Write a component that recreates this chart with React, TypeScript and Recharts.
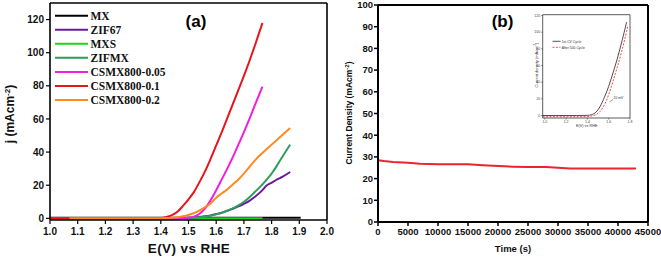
import React from "react";
import { LineChart, Line, XAxis, YAxis, ReferenceLine } from "recharts";

// ---------- Panel (a): LSV curves ----------
const potential = [1.0, 1.07, 1.1, 1.2, 1.3, 1.4, 1.42, 1.44, 1.46, 1.48, 1.5, 1.52, 1.54, 1.56, 1.58, 1.6, 1.62, 1.64, 1.66, 1.68, 1.7, 1.72, 1.74, 1.767, 1.78, 1.8, 1.82, 1.84, 1.867, 1.905];
const mx = [0.3, 0.3, 0.3, 0.3, 0.3, 0.3, 0.3, 0.3, 0.3, 0.3, 0.3, 0.3, 0.3, 0.3, 0.3, 0.3, 0.3, 0.3, 0.3, 0.3, 0.3, 0.3, 0.3, 0.3, 0.3, 0.3, 0.3, 0.3, 0.3, 0.3];
const zif67 = [0, 0, 0, 0, 0, 0, 0, 0, 0, 0.1, 0.3, 0.5, 0.8, 1.2, 1.8, 2.6, 3.4, 4.6, 5.8, 7.2, 8.8, 10.6, 13, 17, 19.5, 21.5, 23.5, 25.2, 28, null];
const mxs = [0, 0, 0, 0, 0, 0, 0, 0, 0, 0, 0, 0, 0, 0, 0, 0, 0, 0, 0, 0, 0, 0, 0, 0, null, null, null, null, null, null];
const zifmx = [0, 0, 0, 0, 0, 0, 0, 0, 0, 0, 0.1, 0.3, 0.6, 1.0, 1.6, 2.4, 3.3, 4.6, 6.0, 7.8, 10, 12.8, 16, 20.5, 23, 27, 32, 37.5, 44.5, null];
const csmx005 = [0, 0, 0, 0, 0, 0, 0, 0, 0, 0, 0.3, 1, 2.8, 6, 11, 17, 23.5, 30, 37, 44.5, 52, 60, 68.5, 79.5, null, null, null, null, null, null];
const csmx01 = [0, 0, 0, 0, 0, 0.2, 0.8, 2, 4, 7.5, 11.5, 16, 22, 28.5, 36, 44, 52, 60.5, 69, 77.5, 86, 95, 104.5, 118, null, null, null, null, null, null];
const csmx02 = [null, 0, 0, 0, 0, 0.1, 0.2, 0.4, 0.7, 1.2, 2, 3.2, 4.8, 6.8, 9, 12.5, 15, 17.5, 20.5, 23.5, 27, 31, 35, 39.5, 41.5, 44.5, 47.5, 50.5, 54.5, null];

const seriesA = [
  { key: "mx", name: "MX", values: mx, color: "#000000" },
  { key: "zif67", name: "ZIF67", values: zif67, color: "#6a1b9a" },
  { key: "mxs", name: "MXS", values: mxs, color: "#1ed21e" },
  { key: "zifmx", name: "ZIFMX", values: zifmx, color: "#2e9e5e" },
  { key: "csmx005", name: "CSMX800-0.05", values: csmx005, color: "#f21ee0" },
  { key: "csmx01", name: "CSMX800-0.1", values: csmx01, color: "#e8141c" },
  { key: "csmx02", name: "CSMX800-0.2", values: csmx02, color: "#ff8a1e" },
];
const xTicksA = [1.0, 1.1, 1.2, 1.3, 1.4, 1.5, 1.6, 1.7, 1.8, 1.9, 2.0];
const yTicksA = [0, 20, 40, 60, 80, 100, 120];

// ---------- Panel (b): chronoamperometry ----------
const time = [0, 1000, 2500, 5000, 7000, 10000, 15000, 17500, 20000, 22500, 25000, 28000, 30000, 32000, 35000, 40000, 43000];
const currentDensity = [28.5, 28.1, 27.7, 27.3, 26.8, 26.6, 26.6, 26.2, 25.8, 25.5, 25.3, 25.3, 25.0, 24.7, 24.6, 24.6, 24.6];
const xTicksB = [0, 5000, 10000, 15000, 20000, 25000, 30000, 35000, 40000, 45000];
const yTicksB = [0, 10, 20, 30, 40, 50, 60, 70, 80, 90, 100];

// ---------- Inset ----------
const insetPotential = [0.98, 1.1, 1.2, 1.3, 1.4, 1.44, 1.48, 1.52, 1.56, 1.6, 1.64, 1.68, 1.72, 1.768, 1.778];
const firstCycle = [0, 0, 0, 0, 0.2, 1, 4, 11, 22, 35, 51, 68, 87, 112, null];
const after500 = [-1.5, -1.5, -1.5, -1.5, -1.2, -0.5, 1, 5, 13, 25, 41, 58, 76, 101, 107];
const xTicksInset = [1.0, 1.2, 1.4, 1.6, 1.8];
const yTicksInset = [0, 20, 40, 60, 80, 100, 120];

const dataA = potential.map((e, i) => {
  const row: any = { e };
  seriesA.forEach((s) => (row[s.key] = s.values[i]));
  return row;
});
const dataB = time.map((t, i) => ({ t, j: currentDensity[i] }));
const dataInset = insetPotential.map((e, i) => ({ e, first: firstCycle[i], after: after500[i] }));

const SANS = "'Liberation Sans', Arial, sans-serif";
const SERIF = "'Liberation Serif', 'Times New Roman', serif";

export default function App() {
  return (
    <div style={{ position: "absolute", left: 0, top: 0, width: 661, height: 259, background: "#fff", overflow: "hidden" }}>
      {/* Panel (a) */}
      <div style={{ position: "absolute", left: 0, top: 0 }}>
        <LineChart width={342} height={259} data={dataA} margin={{ top: 3, right: 15, bottom: 9, left: 0 }}>
          <XAxis
            dataKey="e"
            type="number"
            domain={[1.0, 2.0]}
            ticks={xTicksA}
            tickFormatter={(v: number) => v.toFixed(1)}
            interval={0}
            height={30}
            tickSize={4}
            tickMargin={4}
            axisLine={{ stroke: "#000", strokeWidth: 1.6 }}
            tickLine={{ stroke: "#000", strokeWidth: 1.2 }}
            tick={{ fill: "#111", fontSize: 10, fontWeight: 700, fontFamily: SANS }}
          />
          <YAxis
            type="number"
            domain={[-1, 130]}
            ticks={yTicksA}
            interval={0}
            width={50}
            tickSize={4}
            tickMargin={2}
            axisLine={{ stroke: "#000", strokeWidth: 1.6 }}
            tickLine={{ stroke: "#000", strokeWidth: 1.2 }}
            tick={{ fill: "#111", fontSize: 10, fontWeight: 700, fontFamily: SANS }}
          />
          <ReferenceLine y={130} stroke="#000" strokeWidth={1.6} ifOverflow="visible" />
          <ReferenceLine x={2.0} stroke="#000" strokeWidth={1.6} ifOverflow="visible" />
          {seriesA.map((s) => (
            <Line
              key={s.key}
              dataKey={s.key}
              name={s.name}
              type="monotone"
              stroke={s.color}
              strokeWidth={2}
              dot={false}
              activeDot={false}
              connectNulls={false}
              isAnimationActive={false}
            />
          ))}
        </LineChart>
      </div>

      {/* Panel (b) */}
      <div style={{ position: "absolute", left: 330, top: 0 }}>
        <LineChart width={331} height={259} data={dataB} margin={{ top: 5, right: 13, bottom: 7, left: 0 }}>
          <XAxis
            dataKey="t"
            type="number"
            domain={[0, 45000]}
            ticks={xTicksB}
            interval={0}
            height={30}
            tickSize={4}
            tickMargin={2}
            axisLine={{ stroke: "#000", strokeWidth: 2 }}
            tickLine={{ stroke: "#000", strokeWidth: 1.5 }}
            tick={{ fill: "#111", fontSize: 9.5, fontWeight: 700, fontFamily: SANS }}
          />
          <YAxis
            type="number"
            domain={[0, 100]}
            ticks={yTicksB}
            interval={0}
            width={48}
            tickSize={4}
            tickMargin={1}
            axisLine={{ stroke: "#000", strokeWidth: 2 }}
            tickLine={{ stroke: "#000", strokeWidth: 1.5 }}
            tick={{ fill: "#111", fontSize: 9.5, fontWeight: 700, fontFamily: SANS }}
          />
          <ReferenceLine y={100} stroke="#000" strokeWidth={2} ifOverflow="visible" />
          <ReferenceLine x={45000} stroke="#000" strokeWidth={2} ifOverflow="visible" />
          <Line
            dataKey="j"
            type="linear"
            stroke="#e8262e"
            strokeWidth={2}
            dot={false}
            activeDot={false}
            isAnimationActive={false}
          />
        </LineChart>
      </div>

      {/* Inset */}
      <div style={{ position: "absolute", left: 530, top: 8 }}>
        <LineChart width={105} height={125} data={dataInset} margin={{ top: 6.7, right: 5, bottom: 7, left: 0 }}>
          <XAxis
            dataKey="e"
            type="number"
            domain={[0.98, 1.8]}
            ticks={xTicksInset}
            tickFormatter={(v: number) => v.toFixed(1)}
            interval={0}
            height={8}
            tickSize={1.5}
            tickMargin={1}
            axisLine={{ stroke: "#333", strokeWidth: 0.8 }}
            tickLine={{ stroke: "#333", strokeWidth: 0.6 }}
            tick={{ fill: "#444", fontSize: 3.5, fontFamily: SANS }}
          />
          <YAxis
            type="number"
            domain={[-3, 121]}
            ticks={yTicksInset}
            interval={0}
            width={12.7}
            tickSize={1.5}
            tickMargin={1}
            axisLine={{ stroke: "#333", strokeWidth: 0.8 }}
            tickLine={{ stroke: "#333", strokeWidth: 0.6 }}
            tick={{ fill: "#444", fontSize: 3.5, fontFamily: SANS }}
          />
          <ReferenceLine y={121} stroke="#333" strokeWidth={0.8} ifOverflow="visible" />
          <ReferenceLine x={1.8} stroke="#333" strokeWidth={0.8} ifOverflow="visible" />
          <Line dataKey="first" type="monotone" stroke="#222" strokeWidth={0.8} dot={false} activeDot={false} isAnimationActive={false} />
          <Line dataKey="after" type="monotone" stroke="#f04848" strokeWidth={1} strokeDasharray="2 1.4" dot={false} activeDot={false} isAnimationActive={false} />
        </LineChart>
      </div>

      {/* Text overlay */}
      <svg width={661} height={259} style={{ position: "absolute", left: 0, top: 0, pointerEvents: "none" }}>
        {/* panel labels */}
        <text x={196} y={27} textAnchor="middle" fontSize={17} fontWeight={700} fontFamily={SANS} fill="#000">(a)</text>
        <text x={502.5} y={27} textAnchor="middle" fontSize={17} fontWeight={700} fontFamily={SANS} fill="#000">(b)</text>

        {/* axis titles (a) */}
        <text x={189} y={252.5} textAnchor="middle" fontSize={13.5} fontWeight={700} fontFamily={SANS} fill="#111" letterSpacing={0.4}>E(V) vs RHE</text>
        <text transform="translate(14,114) rotate(-90)" textAnchor="middle" fontSize={12} fontWeight={700} fontFamily={SANS} fill="#111">
          j (mAcm<tspan dy={-4} fontSize={8}>-2</tspan><tspan dy={4}>)</tspan>
        </text>

        {/* axis titles (b) */}
        <text x={513} y={251.5} textAnchor="middle" fontSize={9.5} fontWeight={700} fontFamily={SANS} fill="#111">Time (s)</text>
        <text transform="translate(351.5,113) rotate(-90)" textAnchor="middle" fontSize={8.5} fontWeight={700} fontFamily={SANS} fill="#111">
          Current Density (mAcm<tspan dy={-3} fontSize={6}>-2</tspan><tspan dy={3}>)</tspan>
        </text>

        {/* legend (a) */}
        {seriesA.map((s, i) => (
          <g key={s.key}>
            <line x1={55} x2={88} y1={15.7 + i * 14.05} y2={15.7 + i * 14.05} stroke={s.color} strokeWidth={2} />
            <text x={90.5} y={19.7 + i * 14.05} fontSize={11.5} fontWeight={700} fontFamily={SERIF} fill="#111">{s.name}</text>
          </g>
        ))}

        {/* inset legend & labels */}
        <line x1={552.5} x2={560.5} y1={41.3} y2={41.3} stroke="#222" strokeWidth={0.8} />
        <text x={561.7} y={42.5} fontSize={3.4} fontFamily={SANS} fill="#333">1st CV Cycle</text>
        <line x1={552.5} x2={560.5} y1={47.3} y2={47.3} stroke="#f04848" strokeWidth={1} strokeDasharray="2 1.4" />
        <text x={561.7} y={48.5} fontSize={3.4} fontFamily={SANS} fill="#333">After 500 Cycle</text>
        <text x={613.5} y={98.5} fontSize={3.4} fontFamily={SANS} fill="#333">20 mV</text>
        <line x1={613} x2={609.5} y1={99.5} y2={102} stroke="#333" strokeWidth={0.5} />
        <text x={586.7} y={126.5} textAnchor="middle" fontSize={3.8} fontFamily={SANS} fill="#333">E(V) vs RHE</text>
        <text transform="translate(537.5,65) rotate(-90)" textAnchor="middle" fontSize={4} fontFamily={SANS} fill="#333">
          Current density (mAcm<tspan dy={-1.5} fontSize={2.8}>-2</tspan><tspan dy={1.5}>)</tspan>
        </text>
      </svg>
    </div>
  );
}
